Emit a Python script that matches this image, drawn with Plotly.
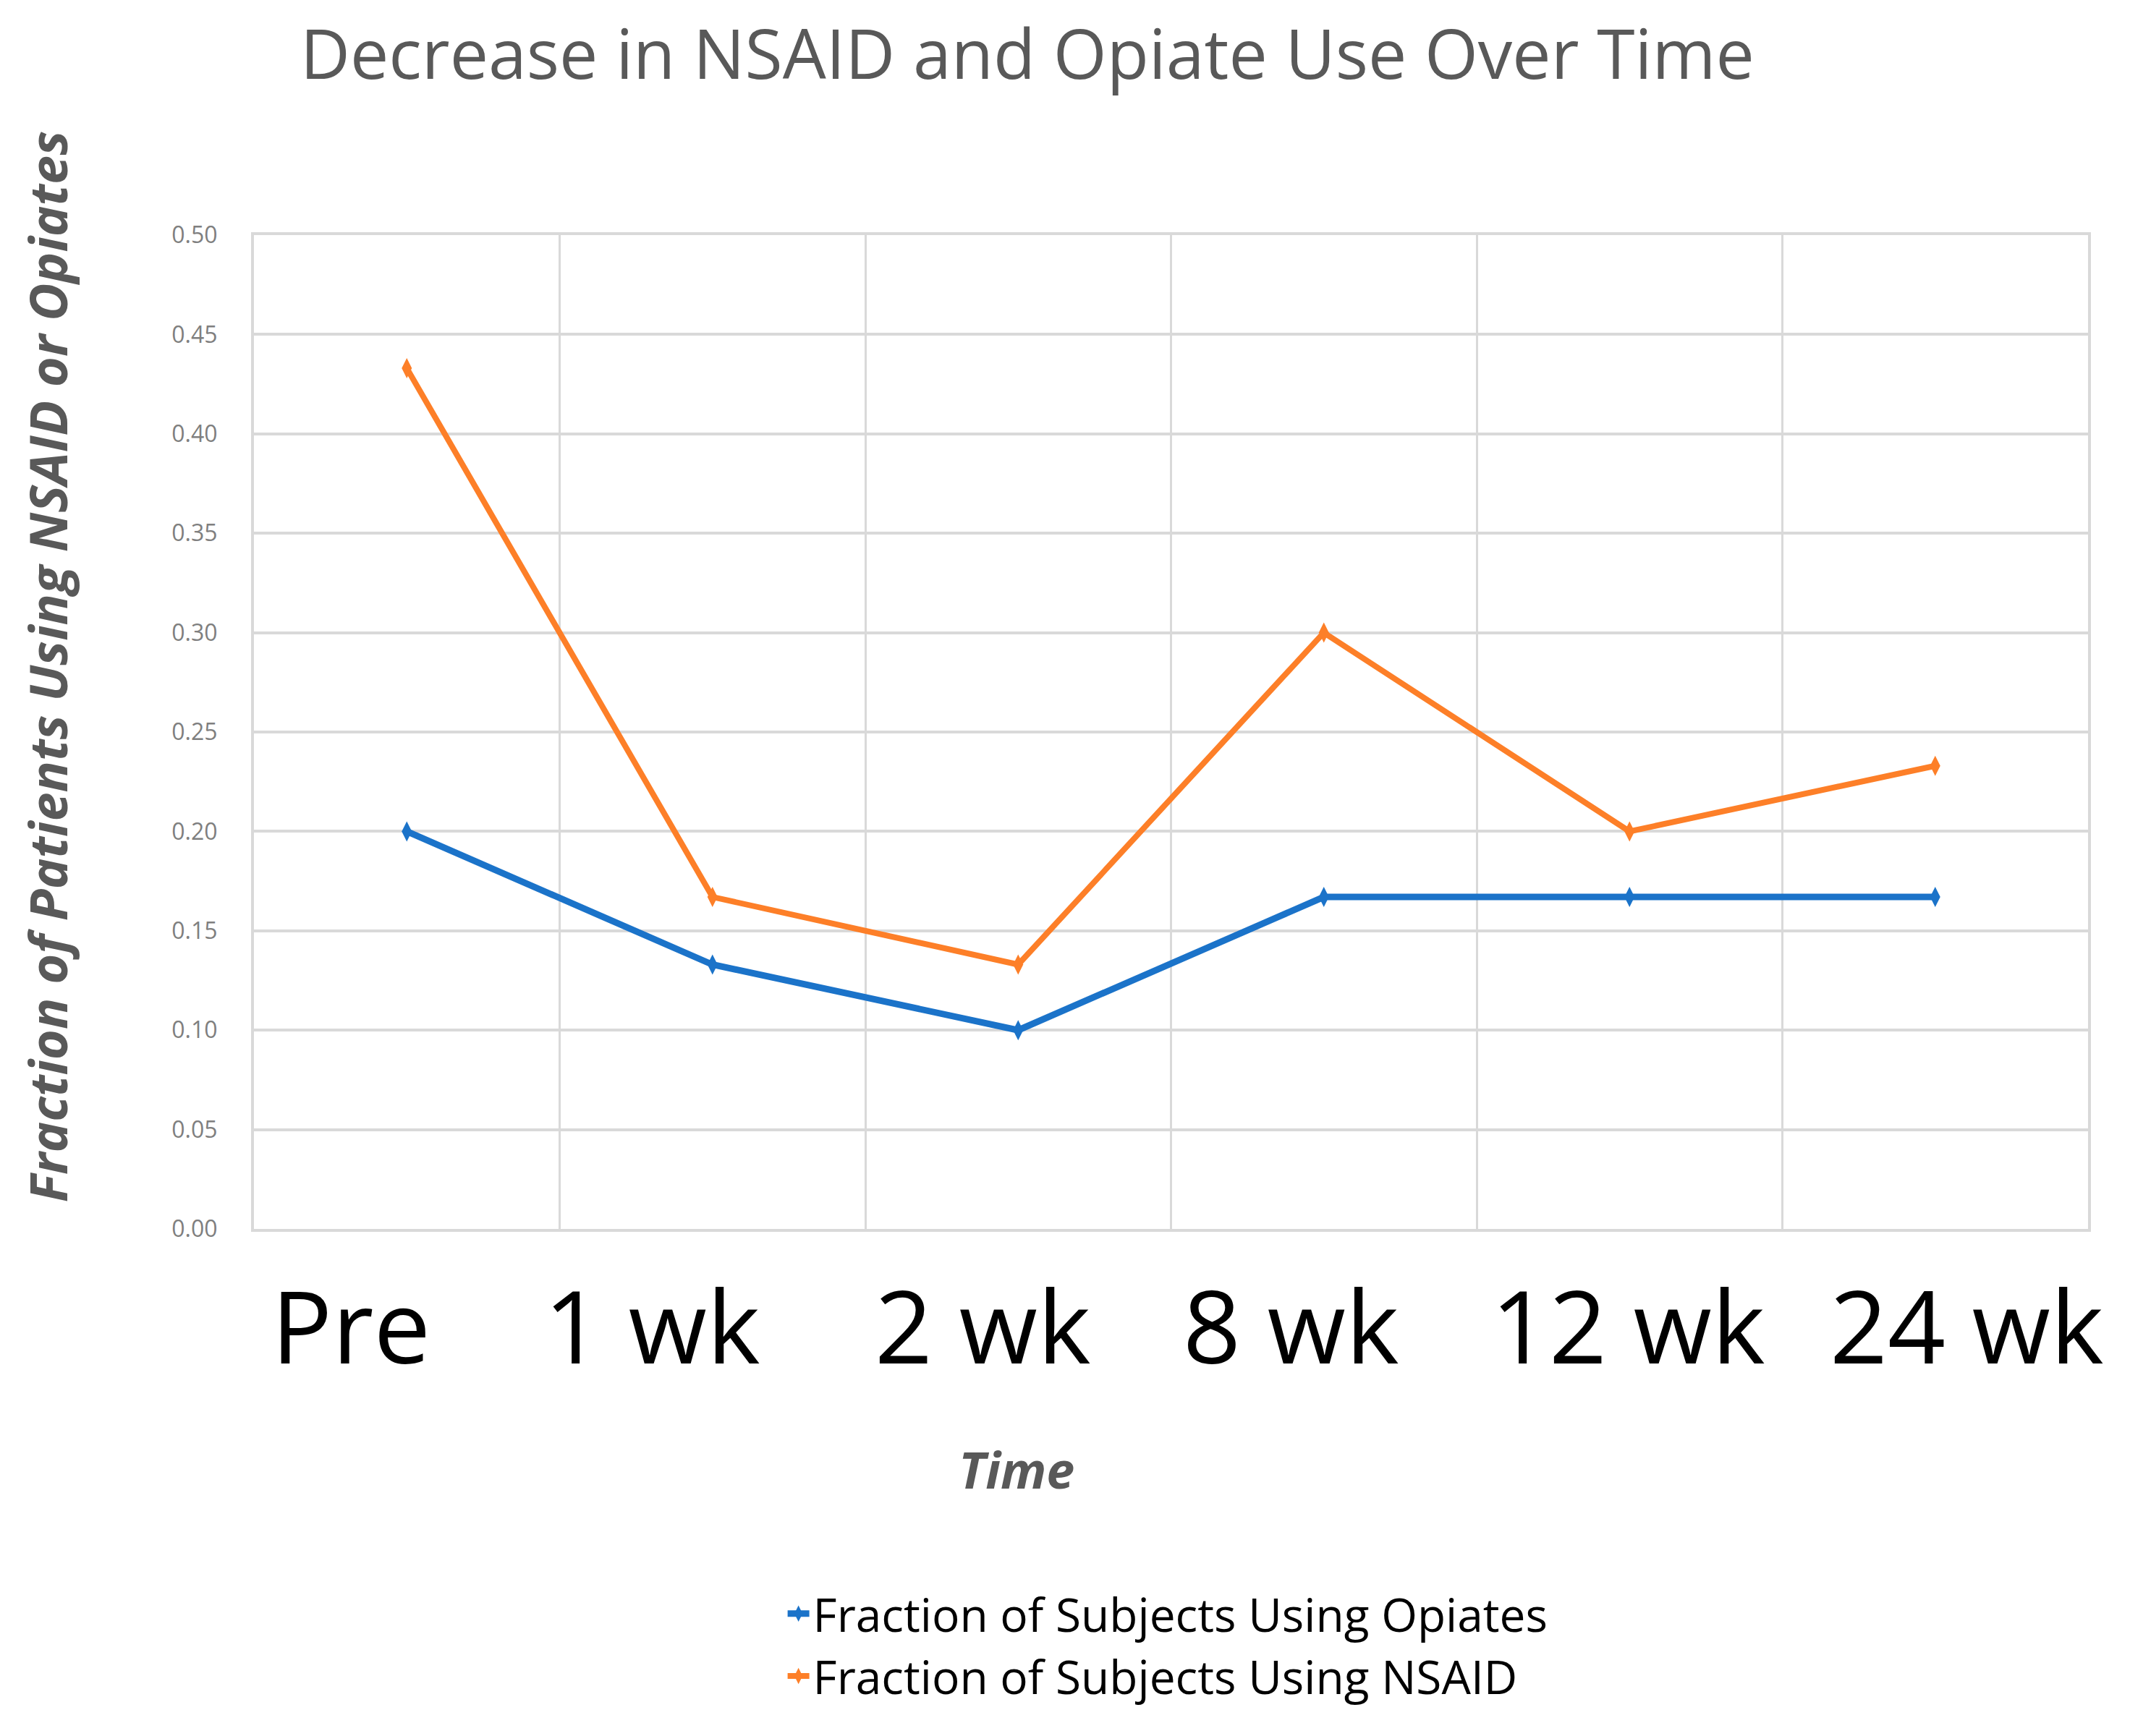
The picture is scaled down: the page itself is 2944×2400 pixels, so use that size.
import plotly.graph_objects as go

categories = ["Pre", "1 wk", "2 wk", "8 wk", "12 wk", "24 wk"]
opiates = [0.200, 0.133, 0.100, 0.167, 0.167, 0.167]
nsaid = [0.433, 0.167, 0.133, 0.300, 0.200, 0.233]
y_ticks = [0.00, 0.05, 0.10, 0.15, 0.20, 0.25, 0.30, 0.35, 0.40, 0.45, 0.50]

# horizontal offsets of the big category labels (px), as in the source text box
label_shift = [-77, -84, -49, -46, -2, 44]

BLUE = "#1b73c9"
ORANGE = "#fd7f28"
GRID = "#d9d9d9"
FONT = "Open Sans"

fig = go.Figure()
fig.add_trace(go.Scatter(
    x=categories, y=opiates, mode="lines+markers",
    name="Fraction of Subjects Using Opiates", legendgroup="a",
    line=dict(color=BLUE, width=9),
    marker=dict(symbol="diamond-tall", size=20, color=BLUE),
))
fig.add_trace(go.Scatter(
    x=categories, y=nsaid, mode="lines+markers",
    name="Fraction of Subjects Using NSAID", legendgroup="b",
    line=dict(color=ORANGE, width=8),
    marker=dict(symbol="diamond-tall", size=20, color=ORANGE),
))

for cat, dx in zip(categories, label_shift):
    fig.add_annotation(x=cat, xref="x", y=-0.0954, yref="paper", xshift=dx,
                       text=cat, showarrow=False, yanchor="middle", xanchor="center",
                       font=dict(family=FONT, size=140, color="#000000"))

fig.add_annotation(x=0.4158, y=-0.2417, xref="paper", yref="paper",
                   text="<b><i>Time</i></b>", showarrow=False,
                   xanchor="center", yanchor="middle",
                   font=dict(family=FONT, size=70, color="#595959"))
fig.add_annotation(x=-0.1125, y=0.566, xref="paper", yref="paper",
                   text="<b><i>Fraction of Patients Using NSAID or Opiates</i></b>",
                   showarrow=False, textangle=-90,
                   xanchor="center", yanchor="middle",
                   font=dict(family=FONT, size=72, color="#595959"))

fig.update_layout(
    width=2944, height=2400,
    margin=dict(l=343, r=66, t=317, b=709),
    paper_bgcolor="white", plot_bgcolor="white",
    title=dict(text="Decrease in NSAID and Opiate Use Over Time",
               x=0.4796, xanchor="center", y=0.9717, yanchor="middle",
               font=dict(family=FONT, size=95, color="#595959")),
    showlegend=True,
    legend=dict(x=0.289, y=-0.352, xanchor="left", yanchor="top",
                orientation="v", tracegroupgap=0,
                font=dict(family=FONT, size=64, color="#000000"),
                bgcolor="rgba(0,0,0,0)"),
    xaxis=dict(type="category", range=[-0.5, 5.5], tickson="boundaries",
               showgrid=True, gridcolor=GRID, gridwidth=3,
               showticklabels=False, ticks="",
               showline=True, mirror=True, linecolor=GRID, linewidth=4,
               zeroline=False, fixedrange=True),
    yaxis=dict(range=[0, 0.5], tickvals=y_ticks, tickformat=".2f",
               showgrid=True, gridcolor=GRID, gridwidth=4,
               showline=True, mirror=True, linecolor=GRID, linewidth=4,
               zeroline=False, ticks="", ticklabelstandoff=40,
               tickfont=dict(family=FONT, size=32, color="#7f7f7f")),
)

fig.write_html("out.html")
